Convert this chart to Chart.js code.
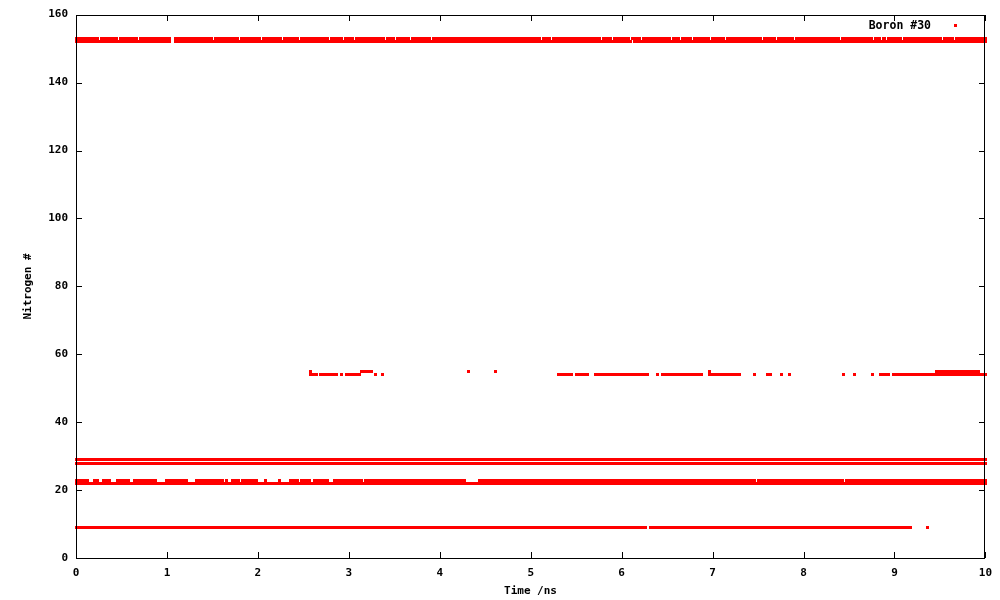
<!DOCTYPE html>
<html>
<head>
<meta charset="utf-8">
<script src="https://cdn.jsdelivr.net/npm/chart.js@4.4.0/dist/chart.umd.min.js"></script>
<style>
  html, body { margin: 0; padding: 0; background: #fff; }
</style>
</head>
<body>
<canvas id="nChart" width="1000" height="600"></canvas>
<script>
// Nitrogen index near Boron #30 over time.
// Each level is stored as runs [start ns, end ns] where the N is present,
// plus single-frame gaps read off the (almost) solid rows.
const xTicks = [0, 1, 2, 3, 4, 5, 6, 7, 8, 9, 10];
const yTicks = [0, 20, 40, 60, 80, 100, 120, 140, 160];
const frameStep = 0.01;
const seriesLabel = 'Boron #30';

const n153Runs = [[0, 10]];
const n153Gaps = [0.26, 0.47, 0.56, 0.69, 0.89, 1.00, 1.05, 1.07, 1.42, 1.51, 1.80, 2.04, 2.27,
  2.46, 2.65, 2.79, 2.94, 3.06, 3.20, 3.33, 3.40, 3.51, 3.68, 3.77, 3.91, 4.10, 4.30, 4.62,
  4.74, 4.85, 4.95, 5.12, 5.23, 5.61, 5.78, 5.90, 6.10, 6.22, 6.30, 6.55, 6.65, 6.78, 6.98,
  7.14, 7.30, 7.55, 7.70, 7.90, 8.17, 8.41, 8.49, 8.77, 8.86, 8.91, 9.09, 9.16, 9.53, 9.66, 9.83];

const n152Runs = [[0, 10]];
const n152Gaps = [1.05, 1.07, 3.07, 6.12];

const n55Runs = [[2.58, 2.58], [3.14, 3.25], [4.32, 4.32], [4.61, 4.61], [6.97, 6.97], [9.46, 9.92]];

const n54Runs = [[2.58, 2.64], [2.69, 2.86], [2.92, 2.92], [2.97, 3.12], [3.29, 3.29], [3.37, 3.37],
  [5.31, 5.45], [5.50, 5.62], [5.71, 5.80], [5.82, 6.00], [6.02, 6.18], [6.21, 6.28], [6.39, 6.39],
  [6.45, 6.50], [6.53, 6.56], [6.58, 6.70], [6.73, 6.88], [6.97, 7.30], [7.46, 7.46], [7.60, 7.60],
  [7.64, 7.64], [7.76, 7.76], [7.85, 7.85], [8.44, 8.44], [8.56, 8.56], [8.76, 8.76], [8.85, 8.93],
  [8.99, 10]];

const n29Runs = [[0, 10]];
const n28Runs = [[0, 10]];

const n23Runs = [[0, 0.05], [0.07, 0.13], [0.20, 0.24], [0.30, 0.37], [0.46, 0.54], [0.58, 0.58],
  [0.64, 0.74], [0.76, 0.87], [0.99, 1.22], [1.32, 1.32], [1.36, 1.61], [1.66, 1.66], [1.72, 1.79],
  [1.83, 1.88], [1.91, 1.93], [1.96, 1.98], [2.08, 2.08], [2.24, 2.24], [2.36, 2.44], [2.48, 2.57],
  [2.62, 2.77], [2.84, 3.14], [3.18, 3.58], [3.60, 3.85], [3.87, 3.95], [3.97, 4.18], [4.19, 4.27],
  [4.44, 5.24], [5.26, 7.46], [7.50, 8.43], [8.47, 9.02], [9.05, 10]];

const n22Runs = [[0, 10]];

const n9Runs = [[0, 6.06], [6.08, 6.18], [6.19, 6.26], [6.32, 6.86], [6.87, 9.18], [9.36, 9.36]];

// Build one scatter point per frame where the nitrogen is present
function buildPoints(level, runs, gaps) {
    const pts = [];
    const frames = Math.round(10 / frameStep);
    for (let k = 0; k <= frames; k++) {
        const t = k * frameStep;
        const inRun = runs.some(r => t >= r[0] - 0.004 && t <= r[1] + 0.004);
        const inGap = (gaps || []).some(g => Math.abs(t - g) < 0.016);
        if (inRun && !inGap) pts.push({ x: t, y: level });
    }
    return pts;
}

const points = [].concat(
    buildPoints(153, n153Runs, n153Gaps),
    buildPoints(152, n152Runs, n152Gaps),
    buildPoints(55, n55Runs),
    buildPoints(54, n54Runs),
    buildPoints(29, n29Runs),
    buildPoints(28, n28Runs),
    buildPoints(23, n23Runs),
    buildPoints(22, n22Runs),
    buildPoints(9, n9Runs)
);

// 3x3 pixel dot like gnuplot's "dots with points"
const dot = document.createElement('canvas');
dot.width = 3;
dot.height = 3;
const dctx = dot.getContext('2d');
dctx.fillStyle = '#ff0000';
dctx.fillRect(0, 0, 3, 3);

const monoFont = '"DejaVu Sans Mono", "Liberation Mono", monospace';

// keep the dots crisp (no smoothing between neighbouring rows)
const crispDots = {
    id: 'crispDots',
    beforeDatasetsDraw(chart) {
        chart.ctx.imageSmoothingEnabled = false;
    }
};

// gnuplot style frame: box, inward ticks, axis titles and key
const gnuplotFrame = {
    id: 'gnuplotFrame',
    afterDraw(chart) {
        const { ctx, chartArea: a } = chart;
        const xs = chart.scales.x;
        const ys = chart.scales.y;
        const left = Math.round(a.left), right = Math.round(a.right);
        const top = Math.round(a.top), bottom = Math.round(a.bottom);
        ctx.save();
        ctx.strokeStyle = '#000';
        ctx.lineWidth = 1;
        ctx.beginPath();
        xTicks.forEach(v => {
            const px = Math.round(xs.getPixelForValue(v)) + 0.5;
            ctx.moveTo(px, bottom); ctx.lineTo(px, bottom - 6);
            ctx.moveTo(px, top); ctx.lineTo(px, top + 6);
        });
        yTicks.forEach(v => {
            const py = Math.round(ys.getPixelForValue(v)) + 0.5;
            ctx.moveTo(left, py); ctx.lineTo(left + 6, py);
            ctx.moveTo(right, py); ctx.lineTo(right - 6, py);
        });
        ctx.stroke();
        ctx.strokeRect(left + 0.5, top + 0.5, right - left - 1, bottom - top);

        ctx.fillStyle = '#000';
        ctx.font = 'bold 11px ' + monoFont;
        ctx.textAlign = 'center';
        ctx.textBaseline = 'middle';
        ctx.fillText('Time /ns', (left + right) / 2, 591);
        ctx.save();
        ctx.translate(28, (top + bottom) / 2);
        ctx.rotate(-Math.PI / 2);
        ctx.fillText('Nitrogen #', 0, 0);
        ctx.restore();

        // key
        ctx.textAlign = 'right';
        ctx.font = 'bold 11.5px ' + monoFont;
        ctx.fillText(seriesLabel, 931, 26);
        ctx.fillStyle = '#ff0000';
        ctx.fillRect(954, 24, 3, 3);
        ctx.restore();
    }
};

const ctx = document.getElementById('nChart').getContext('2d');
const chart = new Chart(ctx, {
    type: 'scatter',
    data: {
        datasets: [{
            label: seriesLabel,
            data: points,
            pointStyle: dot,
            pointRadius: 1.5,
            pointHoverRadius: 1.5,
            borderWidth: 0,
            backgroundColor: '#ff0000',
            borderColor: '#ff0000',
            clip: false
        }]
    },
    options: {
        responsive: false,
        animation: false,
        events: [],
        // a 0.3px offset lines the 3px dots up with the pixel rows of the original
        layout: { padding: { top: 14.3, right: 13, left: 0, bottom: 0 } },
        scales: {
            x: {
                type: 'linear',
                min: 0,
                max: 10,
                afterFit: s => { s.height = 41.7; },
                afterBuildTicks: s => { s.ticks = xTicks.map(v => ({ value: v })); },
                grid: { display: false, drawTicks: false },
                border: { display: false },
                ticks: {
                    padding: 8,
                    color: '#000',
                    maxRotation: 0,
                    autoSkip: false,
                    font: { family: monoFont, size: 11, weight: 'bold' }
                }
            },
            y: {
                type: 'linear',
                min: 0,
                max: 160,
                afterFit: s => { s.width = 76; },
                afterBuildTicks: s => { s.ticks = yTicks.map(v => ({ value: v })); },
                grid: { display: false, drawTicks: false },
                border: { display: false },
                ticks: {
                    padding: 8,
                    color: '#000',
                    autoSkip: false,
                    font: { family: monoFont, size: 11, weight: 'bold' }
                }
            }
        },
        plugins: {
            legend: { display: false },
            tooltip: { enabled: false }
        }
    },
    plugins: [crispDots, gnuplotFrame]
});
</script>
</body>
</html>
